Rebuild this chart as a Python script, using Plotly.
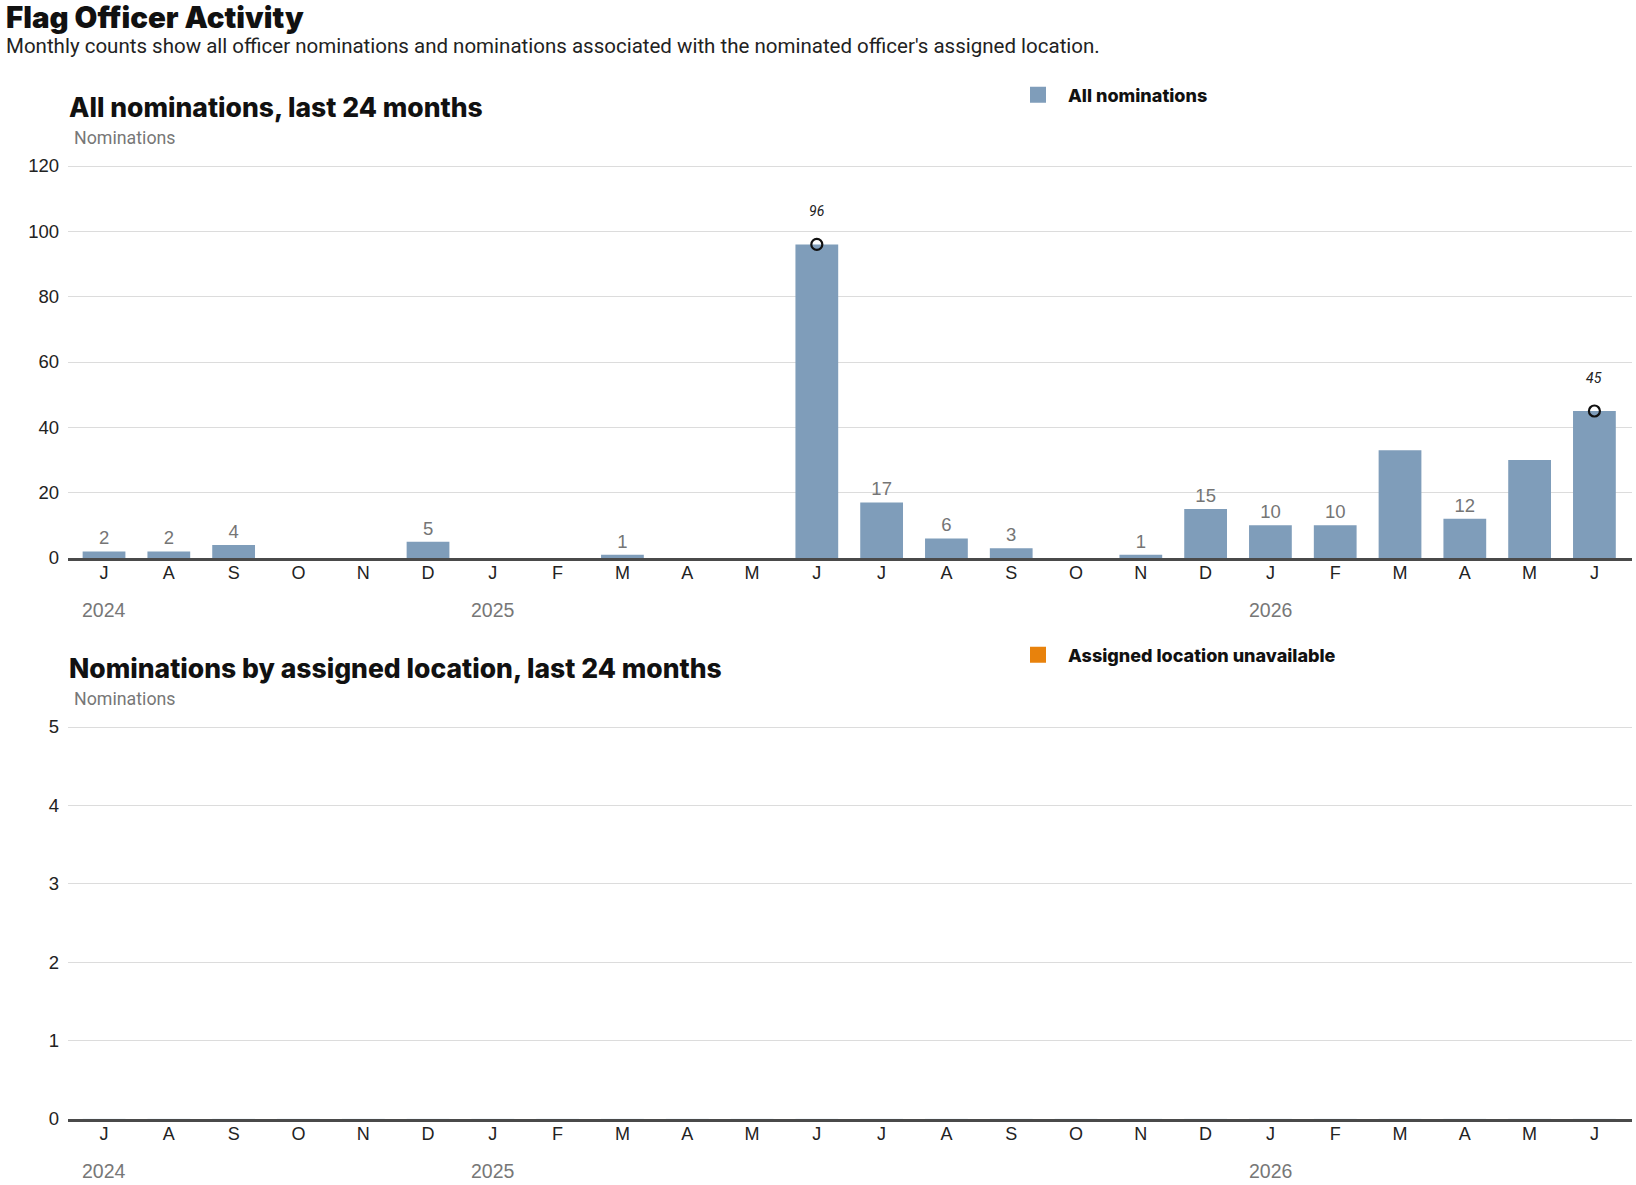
import plotly.graph_objects as go

W, H = 1636, 1185

months = ["2024-07", "2024-08", "2024-09", "2024-10", "2024-11", "2024-12",
          "2025-01", "2025-02", "2025-03", "2025-04", "2025-05", "2025-06",
          "2025-07", "2025-08", "2025-09", "2025-10", "2025-11", "2025-12",
          "2026-01", "2026-02", "2026-03", "2026-04", "2026-05", "2026-06"]
month_letters = ["J", "A", "S", "O", "N", "D", "J", "F", "M", "A", "M", "J",
                 "J", "A", "S", "O", "N", "D", "J", "F", "M", "A", "M", "J"]
all_nominations = [2, 2, 4, 0, 0, 5, 0, 0, 1, 0, 0, 96,
                   17, 6, 3, 0, 1, 15, 10, 10, 33, 12, 30, 45]
bar_labels = ["2", "2", "4", "", "", "5", "", "", "1", "", "", "",
              "17", "6", "3", "", "1", "15", "10", "10", "", "12", "", ""]
location_unavailable = [0, 0, 0, 0, 0, 0, 0, 0, 0, 0, 0, 0,
                        0, 0, 0, 0, 0, 0, 0, 0, 0, 0, 0, 0]
highlight_months = ["2025-06", "2026-06"]
highlight_values = [96, 45]
year_labels = ["2024", "2025", "2026"]
year_months = ["2024-07", "2025-01", "2026-01"]

BLUE = "#7f9dba"
ORANGE = "#e8820c"
GRID = "#dcdcdc"
AXIS = "#4a4a4a"
HEAD = "Inter, Roboto, Arial, sans-serif"
BODY = "Roboto, sans-serif"
TICK = "Liberation Sans, Arial, sans-serif"

def py(px):
    return 1 - px / H

fig = go.Figure()

fig.add_trace(go.Bar(
    x=months, y=all_nominations, name="All nominations",
    marker=dict(color=BLUE, line=dict(width=0)),
    text=bar_labels, textposition="outside", cliponaxis=False,
    textfont=dict(color="#757575", size=18.5, family=TICK),
    showlegend=False, xaxis="x", yaxis="y",
    hovertemplate="%{x}: %{y}<extra></extra>",
))
fig.add_trace(go.Scatter(
    x=highlight_months, y=highlight_values, mode="markers",
    marker=dict(symbol="circle-open", size=11, color="#111", line=dict(width=2.2)),
    showlegend=False, cliponaxis=False, xaxis="x", yaxis="y",
))
fig.add_trace(go.Bar(
    x=months, y=location_unavailable, name="Assigned location unavailable",
    marker=dict(color=ORANGE), showlegend=False, xaxis="x2", yaxis="y2",
))
# legend entries (square swatches)
fig.add_trace(go.Scatter(
    x=[None], y=[None], mode="markers", name="All nominations",
    marker=dict(symbol="square", size=16, color=BLUE),
    legend="legend", xaxis="x", yaxis="y",
))
fig.add_trace(go.Scatter(
    x=[None], y=[None], mode="markers", name="Assigned location unavailable",
    marker=dict(symbol="square", size=16, color=ORANGE),
    legend="legend2", xaxis="x2", yaxis="y2",
))

for m, v in zip(highlight_months, highlight_values):
    fig.add_annotation(text=str(v), x=m, y=v, xref="x", yref="y", yshift=33,
                       showarrow=False,
                       font=dict(size=14, color="#222", family=BODY, style="italic"))

xcommon = dict(
    type="category", categoryorder="array", categoryarray=months,
    tickmode="array", tickvals=months, ticktext=month_letters,
    range=[-0.556, 23.58], showgrid=False, showline=True,
    linecolor=AXIS, linewidth=2.5, ticks="", zeroline=False,
    tickfont=dict(family=TICK, size=18, color="#222"), fixedrange=True,
    automargin=False, ticklabelstandoff=-3,
)
ycommon = dict(
    showgrid=True, gridcolor=GRID, gridwidth=1, zeroline=False,
    showline=False, ticks="", tickfont=dict(family=TICK, size=18.5, color="#222"),
    ticklabelstandoff=8, fixedrange=True, automargin=False,
)

# pixel scale: top 0 at 558, 120 at 166 ; bottom 0 at 1119, 5 at 727
top_max, bot_max = 121.0, 5.05
top_px = 558 - top_max * (558 - 166) / 120
bot_px = 1119 - bot_max * (1119 - 727) / 5

legfont = dict(family=HEAD, size=18, color="#111", weight=800)
fig.update_layout(
    width=W, height=H,
    margin=dict(l=68, r=4, t=0, b=0, autoexpand=False),
    paper_bgcolor="white", plot_bgcolor="white",
    bargap=0.34, showlegend=True,
    xaxis=dict(domain=[0, 1], anchor="y", **xcommon),
    yaxis=dict(domain=[py(558), py(top_px)], range=[0, top_max], dtick=20, anchor="x", **ycommon),
    xaxis2=dict(domain=[0, 1], anchor="y2", **xcommon),
    yaxis2=dict(domain=[py(1119), py(bot_px)], range=[0, bot_max], dtick=1, anchor="x2", **ycommon),
    legend=dict(x=(1008 - 68) / (W - 72), y=py(95), xref="paper", yref="paper",
                xanchor="left", yanchor="middle", itemwidth=50,
                orientation="h", font=legfont, bgcolor="rgba(0,0,0,0)"),
    legend2=dict(x=(1008 - 68) / (W - 72), y=py(655), xref="paper", yref="paper",
                 xanchor="left", yanchor="middle", itemwidth=50,
                 orientation="h", font=legfont, bgcolor="rgba(0,0,0,0)"),
)

annos = [
    dict(text="Flag Officer Activity", x=4, y=17, size=29.5, color="#111", weight=900, family=HEAD),
    dict(text="Monthly counts show all officer nominations and nominations associated with the nominated officer's assigned location.",
         x=4, y=46, size=20.5, color="#222", weight=400, family=BODY),
    dict(text="All nominations, last 24 months", x=67, y=107, size=26.5, color="#111", weight=800, family=HEAD),
    dict(text="Nominations", x=72, y=138, size=17.8, color="#777", weight=400, family=BODY),
    dict(text="Nominations by assigned location, last 24 months", x=67, y=668, size=26.5, color="#111", weight=800, family=HEAD),
    dict(text="Nominations", x=72, y=698, size=17.8, color="#777", weight=400, family=BODY),
]
for a in annos:
    fig.add_annotation(text=a["text"], xref="paper", yref="paper",
                       x=(a["x"] - 68) / (W - 72), y=py(a["y"]), xanchor="left", yanchor="middle",
                       showarrow=False,
                       font=dict(family=a["family"], size=a["size"], color=a["color"], weight=a["weight"]))

for yr, m in zip(year_labels, year_months):
    for xr, ypx in (("x", 610), ("x2", 1171)):
        fig.add_annotation(text=yr, xref=xr, yref="paper", x=m, y=py(ypx),
                           xanchor="center", yanchor="middle", showarrow=False,
                           font=dict(family=TICK, size=19.5, color="#777"))

fig.write_html("out.html")
